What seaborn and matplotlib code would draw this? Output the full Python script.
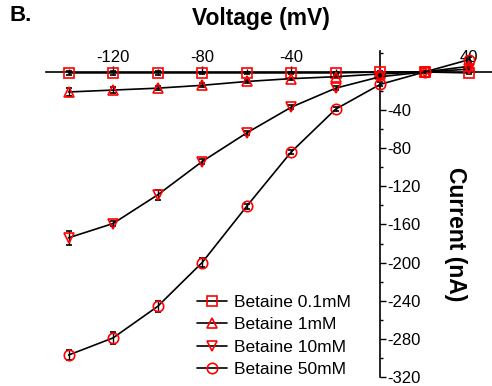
import numpy as np
import pandas as pd
import matplotlib
matplotlib.use("Agg")
import matplotlib.pyplot as plt
import seaborn as sns
from matplotlib.ticker import FixedLocator, MultipleLocator

voltage = [-140, -120, -100, -80, -60, -40, -20, 0, 20, 40]
betaine_01 = [-1, -1, -1, -1, -1, -1, -1, 0, 0, -1]
betaine_1 = [-21, -19, -17, -14, -10, -7, -5, -2, 0, 6]
betaine_10 = [-174, -159, -129, -94, -64, -37, -17, -5, 0, 3]
betaine_50 = [-297, -279, -246, -200, -141, -84, -39, -13, 0, 13]
err_01 = [2, 2, 2, 1, 1, 1, 1, 1, 1, 1]
err_1 = [4, 3, 2, 2, 2, 1, 1, 1, 1, 2]
err_10 = [7, 3, 5, 3, 2, 2, 2, 2, 1, 2]
err_50 = [5, 6, 6, 5, 3, 2, 2, 2, 1, 3]

series = [
    ("Betaine 0.1mM", betaine_01, err_01, "s"),
    ("Betaine 1mM", betaine_1, err_1, "^"),
    ("Betaine 10mM", betaine_10, err_10, "v"),
    ("Betaine 50mM", betaine_50, err_50, "o"),
]

sns.set_style("ticks")
plt.rcParams["font.family"] = ["Liberation Sans", "DejaVu Sans"]
plt.rcParams["axes.unicode_minus"] = False
plt.rcParams["text.color"] = "black"
plt.rcParams["xtick.color"] = "black"
plt.rcParams["ytick.color"] = "black"

fig = plt.figure(figsize=(4.92, 3.86), dpi=100)
ax = fig.add_axes([0.094, 0.0233, 0.905, 0.8446])

for label, vals, errs, mk in series:
    df = pd.DataFrame({"V": voltage, "I": vals})
    ax.errorbar(voltage, vals, yerr=errs, fmt="none", ecolor="black",
                elinewidth=1.0, capsize=2, capthick=1.2, zorder=2)
    sns.lineplot(data=df, x="V", y="I", ax=ax, color="black", lw=1.2,
                 marker=mk, markersize=7.5, markerfacecolor="none",
                 markeredgecolor="red", markeredgewidth=1.2, label=label,
                 zorder=3)

ax.set_xlim(-150, 50)
ax.set_ylim(-320, 22)

ax.spines["left"].set_visible(False)
ax.spines["bottom"].set_visible(False)
ax.spines["top"].set_position(("data", 0))
ax.spines["right"].set_position(("data", 0))
for s in ("top", "right"):
    ax.spines[s].set_linewidth(1.2)
    ax.spines[s].set_color("black")

ax.xaxis.tick_top()
ax.yaxis.tick_right()
ax.xaxis.set_major_locator(FixedLocator([-120, -80, -40, 40]))
ax.xaxis.set_minor_locator(FixedLocator([-140, -100, -60, -20, 0, 20]))
ax.yaxis.set_major_locator(FixedLocator(list(range(-320, 0, 40))))
ax.yaxis.set_minor_locator(MultipleLocator(20))
ax.tick_params(axis="x", which="major", direction="out", length=4, width=1,
               labelsize=12, pad=1)
ax.tick_params(axis="x", which="minor", direction="out", length=2, width=1)
ax.tick_params(axis="y", which="major", direction="out", length=4, width=1,
               labelsize=12, pad=1)
ax.tick_params(axis="y", which="minor", direction="out", length=2, width=1)
ax.set_xlabel("")
ax.set_ylabel("")

fig.text(0.53, 0.953, "Voltage (mV)", fontsize=16.5, fontweight="bold",
         ha="center", va="center")
fig.text(0.925, 0.394, "Current (nA)", fontsize=16.5, fontweight="bold",
         ha="center", va="center", rotation=270)
fig.text(0.02, 0.96, "B.", fontsize=16, fontweight="bold",
         ha="left", va="center")

ax.legend(loc="lower right", bbox_to_anchor=(0.73, 0.0),
          bbox_transform=fig.transFigure, frameon=False, fontsize=12.5,
          handlelength=1.7, handletextpad=0.4, labelspacing=0.42,
          borderpad=0)

fig.savefig("out.png", dpi=100)
